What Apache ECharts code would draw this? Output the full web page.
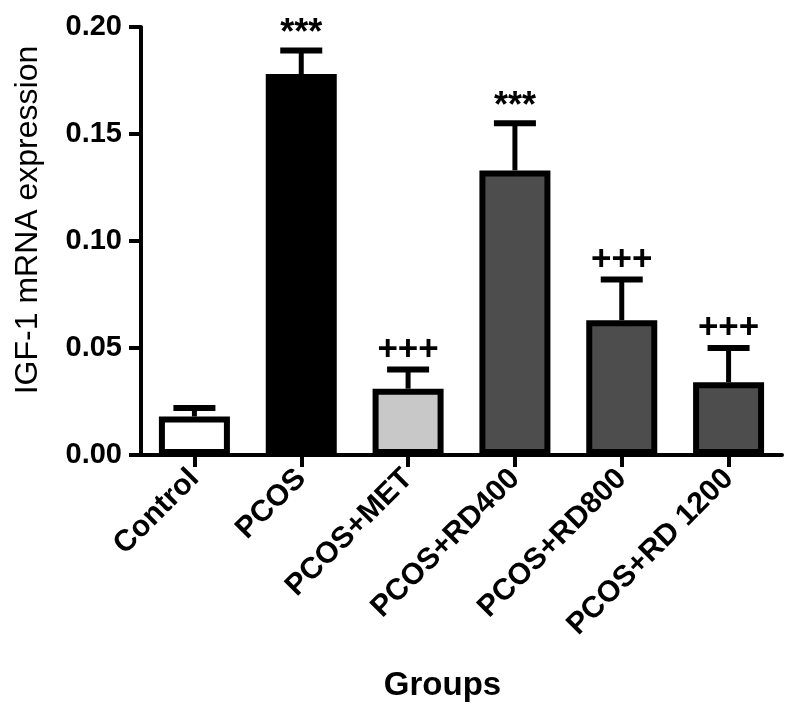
<!DOCTYPE html>
<html>
<head>
<meta charset="utf-8">
<script src="https://cdn.jsdelivr.net/npm/echarts@6/dist/echarts.min.js"></script>
<style>html,body{margin:0;padding:0;background:#fff}#c{width:787px;height:715px}</style>
</head>
<body>
<div id="c"></div>
<script>
const categories = ['Control', 'PCOS', 'PCOS+MET', 'PCOS+RD400', 'PCOS+RD800', 'PCOS+RD 1200'];
const means = [0.018, 0.178, 0.031, 0.133, 0.063, 0.034];
const sems = [0.004, 0.011, 0.009, 0.022, 0.019, 0.016];
const marks = ['', '***', '+++', '***', '+++', '+++'];
const yTicks = [0, 0.05, 0.10, 0.15, 0.20];
const barColors = ['#ffffff', '#000000', '#c8c8c8', '#4d4d4d', '#4d4d4d', '#4d4d4d'];

const FONT = '"Liberation Sans", Arial, sans-serif';
const chart = echarts.init(document.getElementById('c'), null, {renderer: 'canvas'});

chart.setOption({
  animation: false,
  backgroundColor: '#ffffff',
  grid: {left: 141, right: 5, top: 27, bottom: 260, containLabel: false},
  xAxis: {
    type: 'category',
    data: categories,
    name: 'Groups',
    nameLocation: 'middle',
    nameGap: 214,
    nameTextStyle: {fontFamily: FONT, fontWeight: 'bold', fontSize: 33, color: '#000', padding: [0, 38, 0, 0]},
    axisLine: {lineStyle: {color: '#000', width: 4}},
    axisTick: {show: true, length: 12, lineStyle: {color: '#000', width: 4}, alignWithLabel: true},
    axisLabel: {rotate: 45, margin: 19, fontFamily: FONT, fontWeight: 'bold', fontSize: 30, color: '#000', interval: 0}
  },
  yAxis: {
    type: 'value',
    min: yTicks[0],
    max: yTicks[yTicks.length - 1],
    interval: 0.05,
    name: 'IGF-1 mRNA expression',
    nameLocation: 'middle',
    nameGap: 97,
    nameTextStyle: {fontFamily: FONT, fontSize: 32, color: '#000', padding: [0, 0, 0, 42]},
    splitLine: {show: false},
    axisLine: {show: true, lineStyle: {color: '#000', width: 4}},
    axisTick: {show: true, length: 12, lineStyle: {color: '#000', width: 4}},
    axisLabel: {margin: 19, fontFamily: FONT, fontWeight: 'bold', fontSize: 29, color: '#000',
      formatter: v => v.toFixed(2)}
  },
  series: [
    {
      type: 'bar',
      barWidth: 71,
      data: means.map((v, i) => ({value: v, itemStyle: {color: barColors[i], borderColor: '#000', borderWidth: 6}})),
      z: 2
    },
    {
      type: 'custom',
      z: 3,
      data: means.map((v, i) => [i, v, sems[i]]),
      renderItem: function (params, api) {
        const i = api.value(0);
        const m = api.value(1);
        const e = api.value(2);
        const base = api.coord([i, m]);
        const top = api.coord([i, m + e]);
        const children = [
          {type: 'line', shape: {x1: base[0], y1: base[1], x2: top[0], y2: top[1]}, style: {stroke: '#000', lineWidth: 5}},
          {type: 'line', shape: {x1: top[0] - 21, y1: top[1], x2: top[0] + 21, y2: top[1]}, style: {stroke: '#000', lineWidth: 6}}
        ];
        const t = marks[params.dataIndex];
        if (t) {
          const star = t.charAt(0) === '*';
          children.push({type: 'text', style: {text: t, x: top[0], y: top[1] + (star ? 2 : -2), align: 'center', verticalAlign: 'bottom',
            font: 'bold ' + (star ? 36 : 35) + 'px ' + FONT, fill: '#000'}});
        }
        return {type: 'group', children: children};
      }
    }
  ]
});
</script>
</body>
</html>
